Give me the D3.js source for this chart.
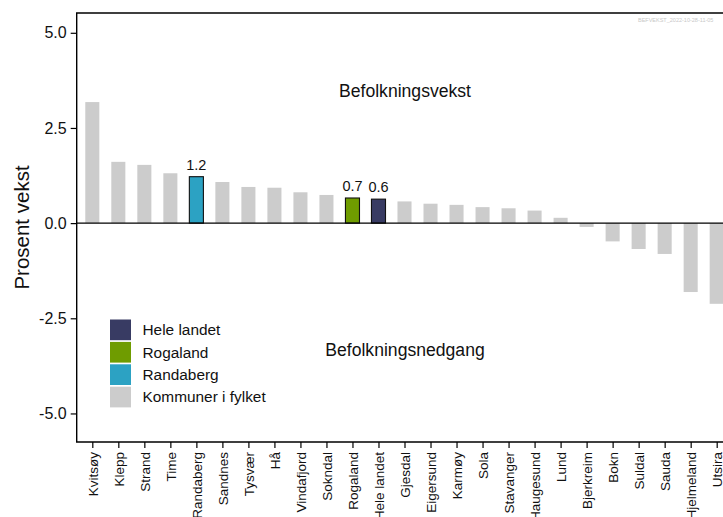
<!DOCTYPE html>
<html>
<head>
<meta charset="utf-8">
<script src="https://cdn.jsdelivr.net/npm/d3@7"></script>
<style>
  body { margin: 0; background: #fff; }
  svg { display: block; font-family: "Liberation Sans", Arial, sans-serif; }
</style>
</head>
<body>
<script>
// Size of the picture
var w = 723;
var h = 517;

// Data
var kommuner = ["Kvitsøy", "Klepp", "Strand", "Time", "Randaberg", "Sandnes", "Tysvær", "Hå",
  "Vindafjord", "Sokndal", "Rogaland", "Hele landet", "Gjesdal", "Eigersund", "Karmøy", "Sola",
  "Stavanger", "Haugesund", "Lund", "Bjerkreim", "Bokn", "Suldal", "Sauda", "Hjelmeland", "Utsira"];
var vekst = [3.18, 1.61, 1.53, 1.31, 1.22, 1.08, 0.95, 0.93,
  0.81, 0.74, 0.66, 0.63, 0.57, 0.51, 0.48, 0.42,
  0.39, 0.33, 0.14, -0.10, -0.48, -0.68, -0.81, -1.81, -2.12];
var yTicks = [-5, -2.5, 0, 2.5, 5];
var legendNames = ["Hele landet", "Rogaland", "Randaberg", "Kommuner i fylket"];
var legendColors = ["#383b63", "#6f9c00", "#2ca2c3", "#cccccc"];

var dataset = kommuner.map(function(k, i) {
  var g = legendNames.indexOf(k) >= 0 ? k : "Kommuner i fylket";
  return { name: k, value: vekst[i], group: g };
});

// Panel edges (right edge runs past the picture and gets cut off)
var pLeft = 76.7, pRight = 732.3, pTop = 13, pBottom = 442;

var xScale = d3.scalePoint()
  .domain(kommuner)
  .range([pLeft, pRight])
  .padding(0.6);
var barW = xScale.step() * 0.54;

var yScale = d3.scaleLinear()
  .domain([-5.75, 5.52])
  .range([pBottom, pTop]);

var color = d3.scaleOrdinal().domain(legendNames).range(legendColors);

var svg = d3.select("body")
  .append("svg")
  .attr("width", w)
  .attr("height", h);

// bars
svg.selectAll("rect.bar")
  .data(dataset)
  .enter()
  .append("rect")
  .attr("class", "bar")
  .attr("x", function(d) { return xScale(d.name) - barW / 2; })
  .attr("y", function(d) { return yScale(Math.max(0, d.value)); })
  .attr("width", barW)
  .attr("height", function(d) { return Math.abs(yScale(d.value) - yScale(0)); })
  .attr("fill", function(d) { return color(d.group); })
  .attr("stroke", function(d) { return d.group === "Kommuner i fylket" ? "none" : "#111"; })
  .attr("stroke-width", 1.1);

// value labels on the highlighted bars
svg.selectAll("text.val")
  .data(dataset.filter(function(d) { return d.group !== "Kommuner i fylket"; }))
  .enter()
  .append("text")
  .attr("class", "val")
  .attr("x", function(d) { return xScale(d.name); })
  .attr("y", function(d) { return yScale(d.value) - 7; })
  .attr("text-anchor", "middle")
  .attr("font-size", "14.5px")
  .attr("fill", "#111")
  .text(function(d) { return d.value.toFixed(1); });

// zero line
svg.append("line")
  .attr("x1", pLeft).attr("x2", pRight)
  .attr("y1", yScale(0)).attr("y2", yScale(0))
  .attr("stroke", "#000")
  .attr("stroke-width", 1.4);

// panel frame: top, left and bottom
svg.append("path")
  .attr("d", "M" + pRight + "," + pTop + "H" + pLeft + "V" + pBottom + "H" + pRight)
  .attr("fill", "none")
  .attr("stroke", "#000")
  .attr("stroke-width", 1.4);

// y axis
var yAxis = d3.axisLeft(yScale)
  .tickValues(yTicks)
  .tickSize(6)
  .tickPadding(4)
  .tickFormat(function(d) { return d.toFixed(1); });

var gy = svg.append("g")
  .attr("transform", "translate(" + pLeft + ",0)")
  .call(yAxis);
gy.select(".domain").remove();
gy.selectAll("text")
  .attr("font-size", "16px")
  .attr("fill", "#111")
  .attr("font-family", "Liberation Sans, Arial, sans-serif");
gy.selectAll("line").attr("stroke-width", 1.2);

svg.append("text")
  .attr("transform", "rotate(-90)")
  .attr("x", -(pTop + pBottom) / 2)
  .attr("y", 29)
  .attr("text-anchor", "middle")
  .attr("font-size", "20.5px")
  .attr("fill", "#111")
  .text("Prosent vekst");

// x axis
var xAxis = d3.axisBottom(xScale)
  .tickSize(6)
  .tickPadding(4);

var gx = svg.append("g")
  .attr("transform", "translate(0," + pBottom + ")")
  .call(xAxis);
gx.select(".domain").remove();
gx.selectAll("line").attr("stroke-width", 1.2);
gx.selectAll("text")
  .attr("font-size", "13.5px")
  .attr("fill", "#111")
  .attr("font-family", "Liberation Sans, Arial, sans-serif")
  .attr("text-anchor", "end")
  .attr("dy", "0.35em")
  .attr("transform", "rotate(-90)")
  .attr("x", -10)
  .attr("y", 0);

// annotations
svg.append("text")
  .attr("x", 405).attr("y", 97.3)
  .attr("text-anchor", "middle")
  .attr("font-size", "17.6px")
  .attr("fill", "#111")
  .text("Befolkningsvekst");

svg.append("text")
  .attr("x", 405).attr("y", 356.3)
  .attr("text-anchor", "middle")
  .attr("font-size", "17.6px")
  .attr("fill", "#111")
  .text("Befolkningsnedgang");

// watermark
svg.append("text")
  .attr("x", 638).attr("y", 22)
  .attr("font-size", "5.5px")
  .attr("fill", "#c8c8c8")
  .text("BEFVEKST_2022-10-28-11-05");

// legend
var legend = svg.selectAll("g.leg")
  .data(legendNames)
  .enter()
  .append("g")
  .attr("class", "leg")
  .attr("transform", function(d, i) { return "translate(110," + (319.5 + i * 22.4) + ")"; });

legend.append("rect")
  .attr("width", 21)
  .attr("height", 20.7)
  .attr("fill", function(d) { return color(d); });

legend.append("text")
  .attr("x", 32.5)
  .attr("y", 15.8)
  .attr("font-size", "15.4px")
  .attr("fill", "#111")
  .text(function(d) { return d; });
</script>
</body>
</html>
